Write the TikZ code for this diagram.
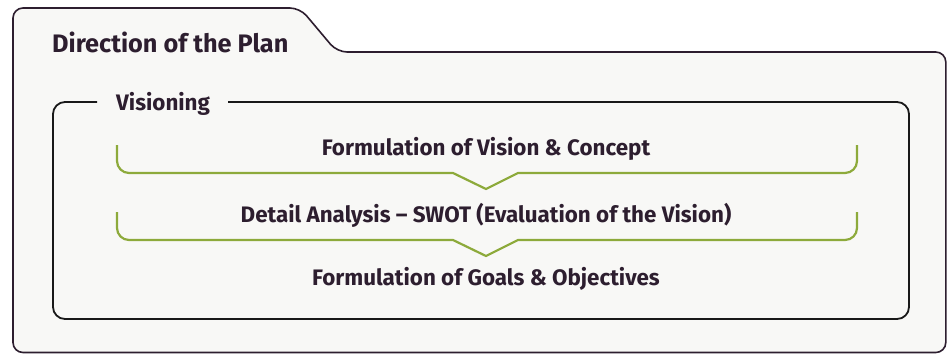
\documentclass[tikz,border=0pt]{standalone}
\usepackage{fontspec}
\setmainfont{Fira Sans}
\definecolor{bgfill}{HTML}{F8F8F6}
\definecolor{ink}{HTML}{2D1E2F}
\definecolor{leaf}{HTML}{8DAA3B}
\tikzset{
  folder/.style={draw=ink, line width=1.6pt, fill=bgfill, rounded corners=10pt},
  panel/.style={draw=black!90, line width=1.8pt, rounded corners=12pt},
  bracket/.style={draw=leaf, line width=2.2pt},
  title/.style={text=ink, font=\bfseries\fontsize{25.3}{30}\selectfont, inner sep=0pt, anchor=base west},
  label/.style={text=ink, font=\bfseries\fontsize{22.4}{27}\selectfont, inner sep=0pt, anchor=base},
}
\begin{document}
\begin{tikzpicture}[x=1pt,y=-1pt]
\useasboundingbox (0,0) rectangle (947,354);
\fill[white] (0,0) rectangle (947,354);
% folder
\path[folder] (13,352.5) -- (13,8) -- (300,8) -- (337,52) -- (945.8,52) -- (945.8,352.5) -- cycle;
\node[title] (dir) at (52,52) {Direction of the Plan};
% panel
\node[label, anchor=base west] (vis) at (116,110) {Visioning};
\coordinate (vl) at (97,102);
\coordinate (vr) at (228,102);
\draw[panel] (vr) -- (909,102) -- (909,319) -- (53,319) -- (53,102) -- (vl);
% steps
\node[label] (s1) at (486,155) {Formulation of Vision \& Concept};
\node[label] (s2) at (486,222) {Detail Analysis – SWOT (Evaluation of the Vision)};
\node[label] (s3) at (486,285) {Formulation of Goals \& Objectives};
% brackets
\draw[bracket] (117,145) [rounded corners=12pt] -- (117,173) [sharp corners] -- (453,173) -- (486,189) -- (518,173) [rounded corners=12pt] -- (857,173) -- (857,145);
\draw[bracket] (117,212) [rounded corners=12pt] -- (117,240) [sharp corners] -- (453,240) -- (486,256) -- (518,240) [rounded corners=12pt] -- (857,240) -- (857,212);
\end{tikzpicture}
\end{document}
